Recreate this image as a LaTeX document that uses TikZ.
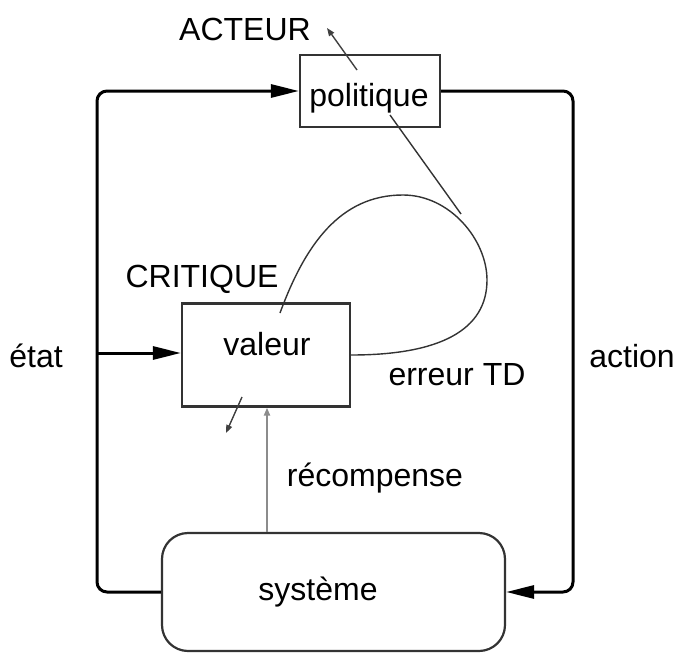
\documentclass[tikz,border=0pt]{standalone}
\usepackage{fontspec}
\setmainfont{Liberation Sans}
\usetikzlibrary{arrows.meta,calc}
\begin{document}
\begin{tikzpicture}[x=1pt,y=-1pt,
  box/.style={draw=black!80,line width=2.2pt,fill=none,inner sep=0pt},
  lbl/.style={anchor=base,inner sep=0pt,font=\fontsize{32}{36}\selectfont},
  bigarrow/.style={line width=3pt,rounded corners=10pt,-{Triangle[length=28pt,width=13pt]}},
  thinline/.style={draw=black!80,line width=1.4pt},
  smallarrow/.style={line width=1.4pt,draw=black!75,-{Triangle[length=8pt,width=6pt]}},
  grayarrow/.style={line width=2pt,draw=black!45,-{Triangle[length=8pt,width=6pt,fill=black!60]}}]
\useasboundingbox (0,0) rectangle (680,653);
% boxes
\node[box,minimum width=140pt,minimum height=72pt] (pol) at (370,91) {};
\node[box,minimum width=168pt,minimum height=103pt] (val) at (266,355) {};
\node[box,rounded corners=26pt,minimum width=343pt,minimum height=118pt] (sys) at (333.5,592) {};
% texts
\node[lbl] (tpol) at (369,106) {politique};
\node[lbl] (tval) at (267,355) {valeur};
\node[lbl] (tsys) at (318,600) {système};
\node[lbl] (tact) at (245,40) {ACTEUR};
\node[lbl] (tcri) at (202,287) {CRITIQUE};
\node[lbl] (terr) at (457,385) {erreur TD};
\node[lbl] (tetat) at (36,367) {état};
\node[lbl] (taction) at (632,367) {action};
\node[lbl] (trec) at (375,486) {récompense};
% loop coordinates
\coordinate (L) at (97,353);
\coordinate (R) at (573,353);
% left loop
\draw[bigarrow] (sys.west) -| (L) |- (pol.west);
\draw[bigarrow,rounded corners=0pt] (L) -- (val.west |- L);
% right loop
\draw[bigarrow] (pol.east) -| (R) |- (sys.east);
% reward
\coordinate (rs) at (267,533);
\draw[grayarrow] (sys.north -| rs) -- (val.south -| rs);
% actor output
\coordinate (a1) at (357,70);
\coordinate (a2) at (327,28);
\draw[smallarrow] (a1) -- (a2);
% critic output
\coordinate (c1) at (242,397);
\coordinate (c2) at (226,433);
\draw[smallarrow] (c1) -- (c2);
% TD error curve
\coordinate (ce) at (280,313);
\draw[thinline] (val.east) .. controls (440,355) and (487,330) .. (487,280)
   .. controls (487,240) and (450,195) .. (403,195)
   .. controls (340,195) and (305,245) .. (ce);
\coordinate (p1) at (390,115);
\coordinate (p2) at (461,214);
\draw[thinline] (p1) -- (p2);
\end{tikzpicture}
\end{document}
